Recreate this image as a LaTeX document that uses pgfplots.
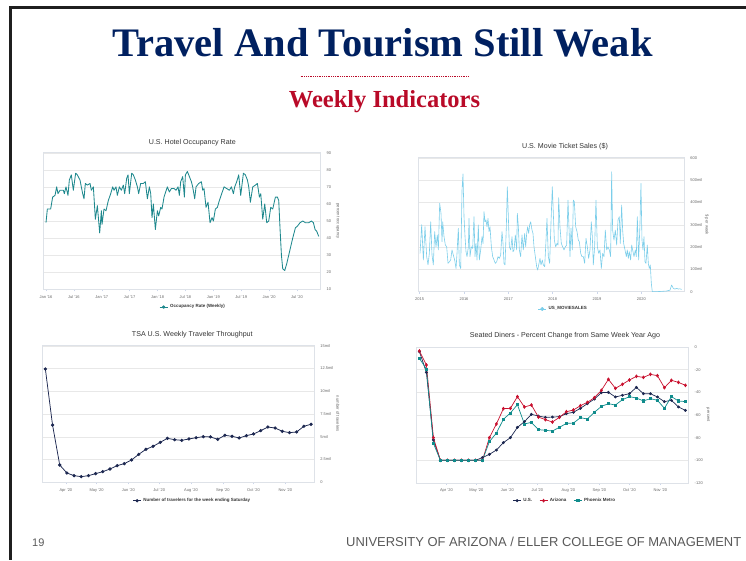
\documentclass[border=0pt]{standalone}
\usepackage{fontspec}
\setmainfont{Liberation Sans}
\newfontfamily\serifb{Liberation Serif}
\usepackage{pgfplots}
\pgfplotsset{compat=1.18}
\definecolor{navytitle}{RGB}{0,32,96}
\definecolor{redtitle}{RGB}{185,10,40}
\definecolor{hcgrid}{RGB}{232,232,232}
\definecolor{hcaxis}{RGB}{204,214,235}
\definecolor{hcframe}{RGB}{222,226,232}
\definecolor{hctext}{RGB}{102,102,102}
\definecolor{hctitle}{RGB}{51,51,51}
\definecolor{occteal}{RGB}{30,136,141}
\definecolor{movieblue}{RGB}{124,206,234}
\definecolor{tsanavy}{RGB}{28,39,80}
\definecolor{azred}{RGB}{200,16,46}
\definecolor{phxteal}{RGB}{16,140,140}
\definecolor{footgray}{RGB}{89,89,89}
\pgfplotsset{
  hc/.style={
    scale only axis,
    anchor=south west,
    axis line style={draw=hcframe, line width=0.5pt},
    ymajorgrids, grid style={draw=hcgrid, line width=0.4pt},
    yticklabel pos=right,
    xtick pos=bottom,
    ytick style={draw=none},
    xtick style={draw=hcaxis, line width=0.4pt},
    major tick length=2pt,
    tick align=outside,
    tick label style={font=\fontsize{4}{5}\selectfont, text=hctext},
    yticklabel style={xshift=0.5pt},
    xticklabel style={yshift=-0.5pt},
    ylabel style={font=\fontsize{4.2}{5}\selectfont, text=hctext, anchor=center, rotate=180},
    legend style={draw=none, fill=none, anchor=center,
      font=\bfseries\fontsize{4.5}{5}\selectfont, text=hctitle,
      legend columns=-1,
      /tikz/every even column/.append style={column sep=5pt}},
  }
}
\begin{document}
\begin{tikzpicture}
\useasboundingbox (0,0) rectangle (746pt,560pt);
% slide frame
\draw[line width=3pt, black!88, line join=miter] (746pt,552pt) -- (10.5pt,552pt) -- (10.5pt,0pt);
% headings
\node[anchor=base, inner sep=0, font=\serifb\bfseries\fontsize{40.5}{44}\selectfont, text=navytitle] at (382.5pt,503pt) {Travel And Tourism Still Weak};
\draw[redtitle, line width=0.8pt, dash pattern=on 0.7pt off 1.1pt] (300.5pt,484pt) -- (468pt,484pt);
\node[anchor=base, inner sep=0, font=\serifb\bfseries\fontsize{24.5}{28}\selectfont, text=redtitle] at (384.5pt,452pt) {Weekly Indicators};
% chart titles
\node[font=\fontsize{7.1}{8}\selectfont, text=hctitle] at (192.3pt,417.3pt) {U.S. Hotel Occupancy Rate};
\node[font=\fontsize{7.1}{8}\selectfont, text=hctitle] at (565pt,413.3pt) {U.S. Movie Ticket Sales (\$)};
\node[font=\fontsize{7.1}{8}\selectfont, text=hctitle] at (192.3pt,225.7pt) {TSA U.S. Weekly Traveler Throughput};
\node[font=\fontsize{7.1}{8}\selectfont, text=hctitle] at (565pt,224pt) {Seated Diners - Percent Change from Same Week Year Ago};
% footer
\node[anchor=base west, inner sep=0, font=\fontsize{11}{12}\selectfont, text=footgray] at (32pt,14pt) {19};
\node[anchor=base west, inner sep=0, font=\fontsize{12.95}{14}\selectfont, text=footgray] at (346pt,14pt) {UNIVERSITY OF ARIZONA / ELLER COLLEGE OF MANAGEMENT};

% ---------------- Hotel occupancy ----------------
\begin{axis}[hc, at={(43.3pt,270.7pt)}, width=277.4pt, height=136.6pt,
  xmin=-0.58, xmax=59.1, ymin=10, ymax=90,
  xtick={0,6,12,18,24,30,36,42,48,54},
  xticklabels={Jan '16,Jul '16,Jan '17,Jul '17,Jan '18,Jul '18,Jan '19,Jul '19,Jan '20,Jul '20},
  ytick={10,20,30,40,50,60,70,80,90},
  yticklabels={10,20,30,40,50,60,70,80,90},
  ylabel={percent occupancy},
  ylabel style={at={(axis description cs:1.062,0.5)}},
  legend style={at={(0.54,-0.13)}},
  legend image code/.code={\draw[occteal, line width=0.8pt] (0pt,0pt) -- (8pt,0pt); \fill[occteal] (4pt,0pt) circle (1.3pt);}]
\addplot[occteal, line width=0.85pt, line join=round] coordinates {
(0,49)(0.29,57)(1.0,57)(1.43,64)(1.94,65)(2.30,70)(2.58,66)(3.01,68)(3.73,68)(3.95,66)(4.30,70)(4.73,65)(5.02,74)(5.45,77)(5.88,68)(6.38,78)(6.74,77)(7.32,74)(7.60,70)(7.89,66)(8.18,63)(8.46,72)(8.90,71)(9.47,72)(9.76,68)(10.19,70)(10.62,51)(11.05,59)(11.55,43)(11.91,56)(12.05,48)(12.48,57)(12.91,56)(13.41,62)(13.92,66)(14.35,70)(14.63,68)(15.06,70)(15.35,65)(15.78,70)(16.21,68)(16.64,71)(16.93,66)(17.36,75)(17.65,77)(17.93,66)(18.44,78)(18.79,77)(19.23,74)(19.66,70)(19.94,66)(20.37,72)(20.95,72)(21.38,73)(21.81,63)(22.24,70)(22.53,66)(22.81,52)(23.10,60)(23.53,45)(23.96,56)(24.25,53)(24.68,58)(24.96,57)(25.39,64)(26.11,70)(26.54,67)(26.97,69)(27.55,69)(27.98,68)(28.41,70)(28.69,65)(28.98,73)(29.41,76)(29.77,64)(29.99,77)(30.42,79)(30.85,76)(31.28,73)(31.56,70)(31.99,63)(32.28,70)(32.86,72)(33.43,73)(33.72,68)(34.00,69)(34.43,58)(34.86,61)(35.29,49)(35.72,52)(36.01,50)(36.44,57)(36.87,58)(37.30,62)(37.80,66)(38.31,70)(38.88,69)(39.45,68)(39.89,70)(40.32,66)(40.60,70)(41.03,73)(41.46,77)(41.89,65)(42.47,78)(42.90,77)(43.33,74)(43.62,70)(43.97,61)(44.48,70)(45.05,71)(45.48,72)(45.91,64)(46.20,66)(46.63,51)(47.06,60)(47.49,49)(47.92,50)(48.35,58)(48.78,57)(49.35,64)(49.78,64)(50.07,62)(50.36,45)(50.65,30)(50.93,22)(51.36,21)(51.79,25)(52.22,30)(52.65,35)(53.08,40)(53.66,46)(54.09,47)(54.66,49)(55.24,50)(55.81,49)(56.53,49)(57.10,50)(57.53,49)(57.89,45)(58.24,44)(58.67,41)
};
\addlegendentry{Occupancy Rate (Weekly)}
\end{axis}

% ---------------- Movie ticket sales ----------------
\begin{axis}[hc, at={(418pt,268.3pt)}, width=266.3pt, height=134pt,
  xmin=2014.962, xmax=2020.970, ymin=0, ymax=600,
  xtick={2015,2016,2017,2018,2019,2020},
  xticklabels={2015,2016,2017,2018,2019,2020},
  ytick={0,100,200,300,400,500,600},
  yticklabels={0,100mil,200mil,300mil,400mil,500mil,600},
  ylabel={\$ per week},
  ylabel style={at={(axis description cs:1.084,0.5)}},
  legend style={at={(0.546,-0.129)}},
  legend image code/.code={\draw[movieblue, line width=0.8pt] (0pt,0pt) -- (8pt,0pt); \fill[movieblue] (4pt,1.7pt) -- (5.7pt,0pt) -- (4pt,-1.7pt) -- (2.3pt,0pt) -- cycle;}]
\addplot[movieblue, line width=0.6pt, line join=round] coordinates {
(2015.008,172)(2015.045,300)(2015.083,142)(2015.120,291)(2015.158,157)(2015.188,120)(2015.218,172)(2015.248,313)(2015.278,164)(2015.308,120)(2015.338,269)(2015.368,201)(2015.398,254)(2015.421,187)(2015.451,396)(2015.481,351)(2015.504,224)(2015.519,313)(2015.549,246)(2015.579,209)(2015.609,201)(2015.639,127)(2015.669,134)(2015.699,142)(2015.729,187)(2015.759,164)(2015.789,142)(2015.820,104)(2015.842,172)(2015.872,284)(2015.895,120)(2015.925,104)(2015.955,455)(2015.977,527)(2016.000,336)(2016.023,246)(2016.045,179)(2016.068,157)(2016.098,201)(2016.113,328)(2016.135,157)(2016.165,201)(2016.195,194)(2016.226,336)(2016.248,157)(2016.271,216)(2016.293,142)(2016.323,299)(2016.346,142)(2016.376,187)(2016.406,246)(2016.429,216)(2016.451,358)(2016.474,313)(2016.496,321)(2016.519,291)(2016.541,328)(2016.564,269)(2016.586,291)(2016.617,201)(2016.647,157)(2016.677,142)(2016.707,127)(2016.737,134)(2016.767,157)(2016.797,149)(2016.827,164)(2016.857,269)(2016.880,216)(2016.902,127)(2016.925,120)(2016.955,291)(2016.977,470)(2017.000,336)(2017.023,201)(2017.053,187)(2017.083,246)(2017.105,179)(2017.128,187)(2017.158,254)(2017.188,187)(2017.203,351)(2017.226,291)(2017.248,187)(2017.278,157)(2017.308,254)(2017.338,187)(2017.368,261)(2017.391,201)(2017.414,261)(2017.436,291)(2017.459,261)(2017.481,299)(2017.504,313)(2017.534,276)(2017.556,261)(2017.579,201)(2017.609,157)(2017.639,112)(2017.662,97)(2017.692,127)(2017.714,149)(2017.737,120)(2017.767,142)(2017.789,120)(2017.820,112)(2017.850,231)(2017.872,328)(2017.902,157)(2017.932,127)(2017.962,306)(2017.992,470)(2018.015,351)(2018.038,231)(2018.068,201)(2018.098,216)(2018.120,209)(2018.135,421)(2018.165,291)(2018.195,216)(2018.226,201)(2018.256,187)(2018.286,201)(2018.316,209)(2018.346,410)(2018.376,246)(2018.391,157)(2018.414,284)(2018.444,187)(2018.466,410)(2018.489,403)(2018.519,291)(2018.549,269)(2018.579,231)(2018.602,224)(2018.632,172)(2018.662,157)(2018.692,157)(2018.722,127)(2018.752,239)(2018.782,201)(2018.812,149)(2018.842,187)(2018.872,313)(2018.895,246)(2018.917,120)(2018.947,201)(2018.977,410)(2019.008,201)(2019.038,172)(2019.068,187)(2019.098,104)(2019.128,172)(2019.158,157)(2019.188,276)(2019.218,187)(2019.248,201)(2019.278,187)(2019.308,157)(2019.331,537)(2019.353,276)(2019.383,231)(2019.414,276)(2019.444,209)(2019.474,321)(2019.504,336)(2019.526,216)(2019.556,388)(2019.579,276)(2019.602,216)(2019.632,187)(2019.662,157)(2019.684,187)(2019.707,149)(2019.729,179)(2019.759,142)(2019.782,209)(2019.805,187)(2019.835,157)(2019.865,187)(2019.887,157)(2019.910,336)(2019.940,142)(2019.970,306)(2019.992,485)(2020.015,231)(2020.038,187)(2020.060,246)(2020.083,134)(2020.105,127)(2020.135,209)(2020.158,127)(2020.180,104)(2020.203,120)(2020.226,37)(2020.248,0)(2020.308,0)(2020.421,1)(2020.571,3)(2020.647,7)(2020.684,30)(2020.722,15)(2020.759,12)(2020.797,15)(2020.835,12)(2020.872,13)(2020.910,10)
};
\addlegendentry{US\_MOVIESALES}
\end{axis}

% ---------------- TSA throughput ----------------
\begin{axis}[hc, at={(42.7pt,77.7pt)}, width=271.6pt, height=136.6pt,
  xmin=69.4, xmax=334.2, ymin=0, ymax=15,
  xtick={92,122,153,183,214,245,275,306},
  xticklabels={Apr '20,May '20,Jun '20,Jul '20,Aug '20,Sep '20,Oct '20,Nov '20},
  ytick={0,2.5,5,7.5,10,12.5,15},
  yticklabels={0,2.5mil,5mil,7.5mil,10mil,12.5mil,15mil},
  ylabel={number of travelers},
  ylabel style={at={(axis description cs:1.087,0.5)}},
  legend style={at={(0.551,-0.135)}},
  legend image code/.code={\draw[tsanavy, line width=0.8pt] (0pt,0pt) -- (8pt,0pt); \fill[tsanavy] (4pt,0pt) circle (1.3pt);}]
\addplot[tsanavy, line width=0.75pt, mark=*, mark size=1.25pt] coordinates {
(72,12.44)(79,6.29)(86,1.90)(93,1.02)(100,0.73)(107,0.62)(114,0.73)(121,0.95)(128,1.17)(135,1.46)(142,1.83)(149,2.05)(156,2.45)(163,3.07)(170,3.62)(177,3.95)(184,4.39)(191,4.83)(198,4.68)(205,4.61)(212,4.76)(219,4.90)(226,5.01)(233,4.98)(240,4.72)(247,5.16)(254,5.05)(261,4.87)(268,5.12)(275,5.31)(282,5.67)(289,6.07)(296,5.96)(303,5.60)(310,5.45)(317,5.53)(324,6.15)(331,6.37)
};
\addlegendentry{Number of travelers for the week ending Saturday}
\end{axis}

% ---------------- Seated diners ----------------
\begin{axis}[hc, at={(416.7pt,77pt)}, width=272pt, height=136pt,
  xmin=62.3, xmax=334.3, ymin=-120, ymax=0,
  xtick={92,122,153,183,214,245,275,306},
  xticklabels={Apr '20,May '20,Jun '20,Jul '20,Aug '20,Sep '20,Oct '20,Nov '20},
  ytick={-120,-100,-80,-60,-40,-20,0},
  yticklabels={-120,-100,-80,-60,-40,-20,0},
  ylabel={percent},
  ylabel style={at={(axis description cs:1.071,0.5)}},
  legend style={at={(0.545,-0.13)}},
  legend image code/.code={\draw[#1, mark repeat=2, mark phase=2] plot coordinates {(0pt,0pt)(4pt,0pt)(8pt,0pt)};}]
\addplot[tsanavy, line width=0.7pt, mark=*, mark size=1.1pt] coordinates {
(65,-4.1)(72,-22.4)(79,-82)(86,-100)(93,-100)(100,-100)(107,-100)(114,-100)(121,-100)(128,-97.6)(135,-94.7)(142,-90.9)(149,-84.4)(156,-80)(163,-70.9)(170,-65.9)(177,-59.4)(184,-60.9)(191,-62.1)(198,-61.8)(205,-61.5)(212,-58.8)(219,-57.6)(226,-54.1)(233,-50)(240,-45.9)(247,-40.3)(254,-40)(261,-44.1)(268,-42.6)(275,-41.2)(282,-35.6)(289,-41.2)(296,-41.2)(303,-44.1)(310,-48.2)(317,-47)(324,-52.9)(331,-55.9)
};
\addlegendentry{U.S.}
\addplot[azred, line width=0.7pt, mark=diamond*, mark size=1.4pt] coordinates {
(65,-3.5)(72,-15.9)(79,-80)(86,-100)(93,-100)(100,-100)(107,-100)(114,-100)(121,-100)(128,-100)(135,-80)(142,-67.9)(149,-54.4)(156,-54.1)(163,-43.8)(170,-52.9)(177,-51.2)(184,-61.8)(191,-64.1)(198,-66.2)(205,-62.1)(212,-57.1)(219,-55.6)(226,-51.8)(233,-48.8)(240,-44.7)(247,-38.2)(254,-28.5)(261,-36.5)(268,-32.9)(275,-29.1)(282,-25.9)(289,-26.8)(296,-24.1)(303,-25.3)(310,-35.9)(317,-29.4)(324,-31.2)(331,-33.8)
};
\addlegendentry{Arizona}
\addplot[phxteal, line width=0.7pt, mark=square*, mark size=1.1pt] coordinates {
(65,-10)(72,-19.4)(79,-85)(86,-100)(93,-100)(100,-100)(107,-100)(114,-100)(121,-100)(128,-100)(135,-83.5)(142,-75.9)(149,-63.8)(156,-58.2)(163,-50.9)(170,-67.9)(177,-66.5)(184,-72.9)(191,-73.5)(198,-74.1)(205,-70.9)(212,-67.4)(219,-67.1)(226,-62.4)(233,-63.5)(240,-57.6)(247,-52.4)(254,-50)(261,-51.2)(268,-46.5)(275,-43.8)(282,-45)(289,-47.6)(296,-45.6)(303,-47)(310,-54.1)(317,-43.8)(324,-47.6)(331,-48.2)
};
\addlegendentry{Phoenix Metro}
\end{axis}
\end{tikzpicture}
\end{document}
